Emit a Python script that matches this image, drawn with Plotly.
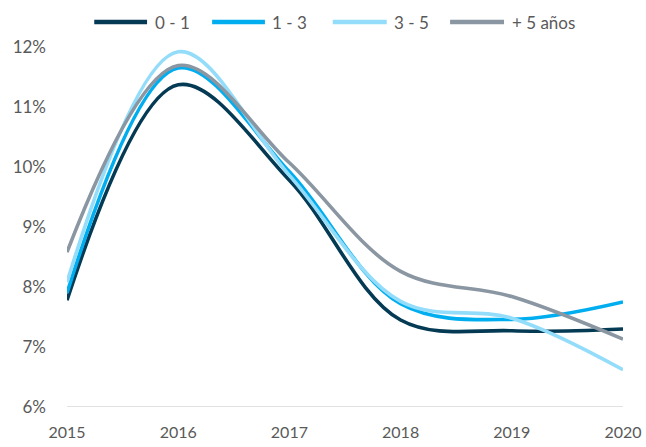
import plotly.graph_objects as go

years = [2015, 2016, 2017, 2018, 2019, 2020]
tramo_0_1 = [7.78, 11.37, 9.78, 7.45, 7.27, 7.30]
tramo_1_3 = [7.90, 11.65, 9.92, 7.72, 7.46, 7.75]
tramo_3_5 = [8.08, 11.92, 9.86, 7.76, 7.48, 6.62]
tramo_5_mas = [8.58, 11.69, 10.07, 8.26, 7.84, 7.13]

series_names = ["0 - 1", "1 - 3", "3 - 5", "+ 5 años"]
series_values = [tramo_0_1, tramo_1_3, tramo_3_5, tramo_5_mas]
series_colors = ["#053A54", "#00AEEF", "#93DDFA", "#8A96A1"]

y_ticks = [6, 7, 8, 9, 10, 11, 12]
y_labels = [f"{v}%" for v in y_ticks]

fig = go.Figure()
for name, vals, col in zip(series_names, series_values, series_colors):
    fig.add_trace(go.Scatter(
        x=years, y=vals, name=name, mode="lines",
        line=dict(color=col, width=3.6, shape="spline", smoothing=1.0),
        showlegend=False,
    ))

font_family = "Lato, 'Open Sans', sans-serif"
text_color = "#595959"
fig.update_layout(
    width=646, height=447,
    margin=dict(l=67, r=23, t=40, b=40, autoexpand=False),
    paper_bgcolor="white", plot_bgcolor="white",
    font=dict(family=font_family, size=17, color=text_color),
    showlegend=False,
    xaxis=dict(
        range=[2015, 2020], tickvals=years, ticktext=[str(y) for y in years],
        showgrid=False, zeroline=False, showline=False,
        ticks="", ticklabelstandoff=14, automargin=False,
        tickfont=dict(size=16),
    ),
    yaxis=dict(
        range=[6, 12], tickvals=y_ticks, ticktext=y_labels,
        showgrid=False, zeroline=False, showline=False,
        ticks="", ticklabelstandoff=20, automargin=False,
        domain=[0, 0.981],
    ),
)

# baseline at 6%
fig.add_shape(type="line", xref="paper", yref="y", x0=0, x1=1, y0=6, y1=6,
              line=dict(color="#D9D9D9", width=1.5), layer="below")

# legend row across the top: long line swatch followed by the label
legend_line_x = [(0.049, 0.144), (0.261, 0.356), (0.478, 0.575), (0.689, 0.786)]
legend_y = 1.049
for name, col, (x0, x1) in zip(series_names, series_colors, legend_line_x):
    fig.add_shape(type="line", xref="paper", yref="paper",
                  x0=x0, x1=x1, y0=legend_y, y1=legend_y,
                  line=dict(color=col, width=4.5))
    fig.add_annotation(xref="paper", yref="paper", x=x1 + 0.01, y=legend_y,
                       text=name, showarrow=False, xanchor="left",
                       yanchor="middle", font=dict(size=17, color=text_color))

fig.write_html("out.html")
